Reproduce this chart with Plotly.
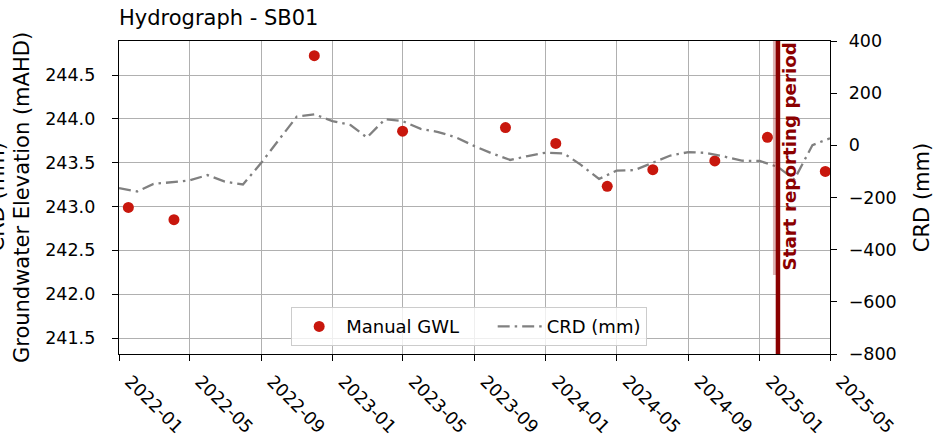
import plotly.graph_objects as go

# ---------------- data ----------------
gwl_dates = ["2022-01-17", "2022-04-05", "2022-12-01", "2023-05-01", "2023-10-24",
             "2024-01-18", "2024-04-15", "2024-07-02", "2024-10-16", "2025-01-14",
             "2025-04-23"]
gwl_values = [242.99, 242.85, 244.72, 243.86, 243.90, 243.72, 243.23, 243.42,
              243.52, 243.79, 243.40]

crd_dates = ["2022-01-01", "2022-02-01", "2022-03-01", "2022-04-01", "2022-05-01",
             "2022-06-01", "2022-07-01", "2022-08-01", "2022-09-01", "2022-10-01",
             "2022-11-01", "2022-12-01", "2023-01-01", "2023-02-01", "2023-03-01",
             "2023-04-01", "2023-05-01", "2023-06-01", "2023-07-01", "2023-08-01",
             "2023-09-01", "2023-10-01", "2023-11-01", "2023-12-01", "2024-01-01",
             "2024-02-01", "2024-03-01", "2024-04-01", "2024-05-01", "2024-06-01",
             "2024-07-01", "2024-08-01", "2024-09-01", "2024-10-01", "2024-11-01",
             "2024-12-01", "2025-01-01", "2025-02-01", "2025-03-01", "2025-04-01",
             "2025-05-01"]
crd_values = [-164, -177, -148, -141, -135, -114, -139, -150, -68, 20,
              110, 119, 93, 78, 30, 100, 93, 63, 51, 30,
              -3, -31, -56, -41, -28, -31, -75, -129, -97, -95,
              -66, -39, -26, -29, -43, -59, -60, -83, -131, 1,
              27]

x_tick_vals = ["2022-01-01", "2022-05-01", "2022-09-01", "2023-01-01", "2023-05-01",
               "2023-09-01", "2024-01-01", "2024-05-01", "2024-09-01", "2025-01-01",
               "2025-05-01"]
x_tick_text = ["2022-01", "2022-05", "2022-09", "2023-01", "2023-05", "2023-09",
               "2024-01", "2024-05", "2024-09", "2025-01", "2025-05"]
y_tick_vals = [241.5, 242.0, 242.5, 243.0, 243.5, 244.0, 244.5]
y_tick_text = ["241.5", "242.0", "242.5", "243.0", "243.5", "244.0", "244.5"]
y2_tick_vals = [-800, -600, -400, -200, 0, 200, 400]
y2_tick_text = ["\u2212800", "\u2212600", "\u2212400", "\u2212200", "0", "200", "400"]

x_range = ["2022-01-01", "2025-05-01"]
y_range = [241.318, 244.888]
y2_range = [-800, 400]
report_start = "2025-02-01"

FONT = "DejaVu Sans"
RED = "#c8170d"
DARKRED = "#8b0000"
GRID = "#b0b0b0"
NBSP = "\u00a0"

fig = go.Figure()
fig.add_trace(go.Scatter(
    x=gwl_dates, y=gwl_values, mode="markers", name="Manual GWL" + NBSP * 5,
    marker=dict(color=RED, size=11, line=dict(width=0)), yaxis="y"))
fig.add_trace(go.Scatter(
    x=crd_dates, y=crd_values, mode="lines", name="CRD (mm)",
    line=dict(color="#808080", width=2.3, dash="12px,5px,2.5px,5px"), yaxis="y2"))

# pale band beside the reporting line
fig.add_shape(type="rect", xref="x", yref="paper", xsizemode="pixel", xanchor=report_start,
              x0=-5, x1=0, y0=0.252, y1=1, line=dict(width=0),
              fillcolor="rgba(160,40,40,0.35)", layer="above")
fig.add_shape(type="line", xref="x", yref="paper", x0=report_start, x1=report_start,
              y0=0, y1=1, line=dict(color=DARKRED, width=4.5), layer="above")
fig.add_annotation(x=report_start, xref="x", y=1, yref="paper", text="<b>Start reporting period</b>",
                   textangle=-90, xanchor="left", yanchor="top", showarrow=False,
                   xshift=-1, yshift=1, font=dict(family=FONT, size=18.3, color=DARKRED))
# clipped secondary label on left side
fig.add_annotation(x=0, xref="paper", xshift=-123, y=0.5, yref="paper", text="CRD (mm)",
                   textangle=-90, xanchor="center", yanchor="middle", showarrow=False,
                   font=dict(family=FONT, size=21, color="black"))

axis_common = dict(showline=True, linecolor="black", linewidth=1.4, ticks="outside",
                   ticklen=6, tickwidth=1.4, tickcolor="black", zeroline=False,
                   automargin=False,
                   tickfont=dict(family=FONT, size=17.5, color="black"))

fig.update_layout(
    width=951, height=440,
    margin=dict(l=119, r=121, t=41, b=86, autoexpand=False),
    paper_bgcolor="white", plot_bgcolor="white",
    font=dict(family=FONT, color="black"),
    title=dict(text="Hydrograph - SB01", x=0, xref="paper", xanchor="left",
               y=1 - 18 / 440, yref="container", yanchor="middle",
               font=dict(family=FONT, size=21, color="black")),
    xaxis=dict(type="date", range=x_range, tickvals=x_tick_vals, ticktext=x_tick_text,
               tickangle=45, showgrid=True, gridcolor=GRID, gridwidth=1.4, mirror=True,
               ticklabelstandoff=3, ticklabelshift=11, **axis_common),
    yaxis=dict(range=y_range, tickvals=y_tick_vals, ticktext=y_tick_text,
               showgrid=True, gridcolor=GRID, gridwidth=1.4, ticklabelstandoff=13,
               title=dict(text="Groundwater Elevation (mAHD)", standoff=9,
                          font=dict(family=FONT, size=21, color="black")),
               **axis_common),
    yaxis2=dict(range=y2_range, tickvals=y2_tick_vals, ticktext=y2_tick_text,
                overlaying="y", side="right", showgrid=False, ticklabelstandoff=8,
                title=dict(text="CRD (mm)", standoff=18,
                           font=dict(family=FONT, size=21, color="black")),
                **axis_common),
    legend=dict(orientation="h", x=0.4925, xanchor="center", y=0.025, yanchor="bottom",
                bgcolor="rgba(255,255,255,0.8)", bordercolor="#cccccc", borderwidth=1,
                itemwidth=44,
                font=dict(family=FONT, size=18, color="black")),
    showlegend=True,
)

fig.write_html("out.html", config={"displayModeBar": False},
               post_script="document.body.style.margin='0';document.body.style.overflow='hidden';")
